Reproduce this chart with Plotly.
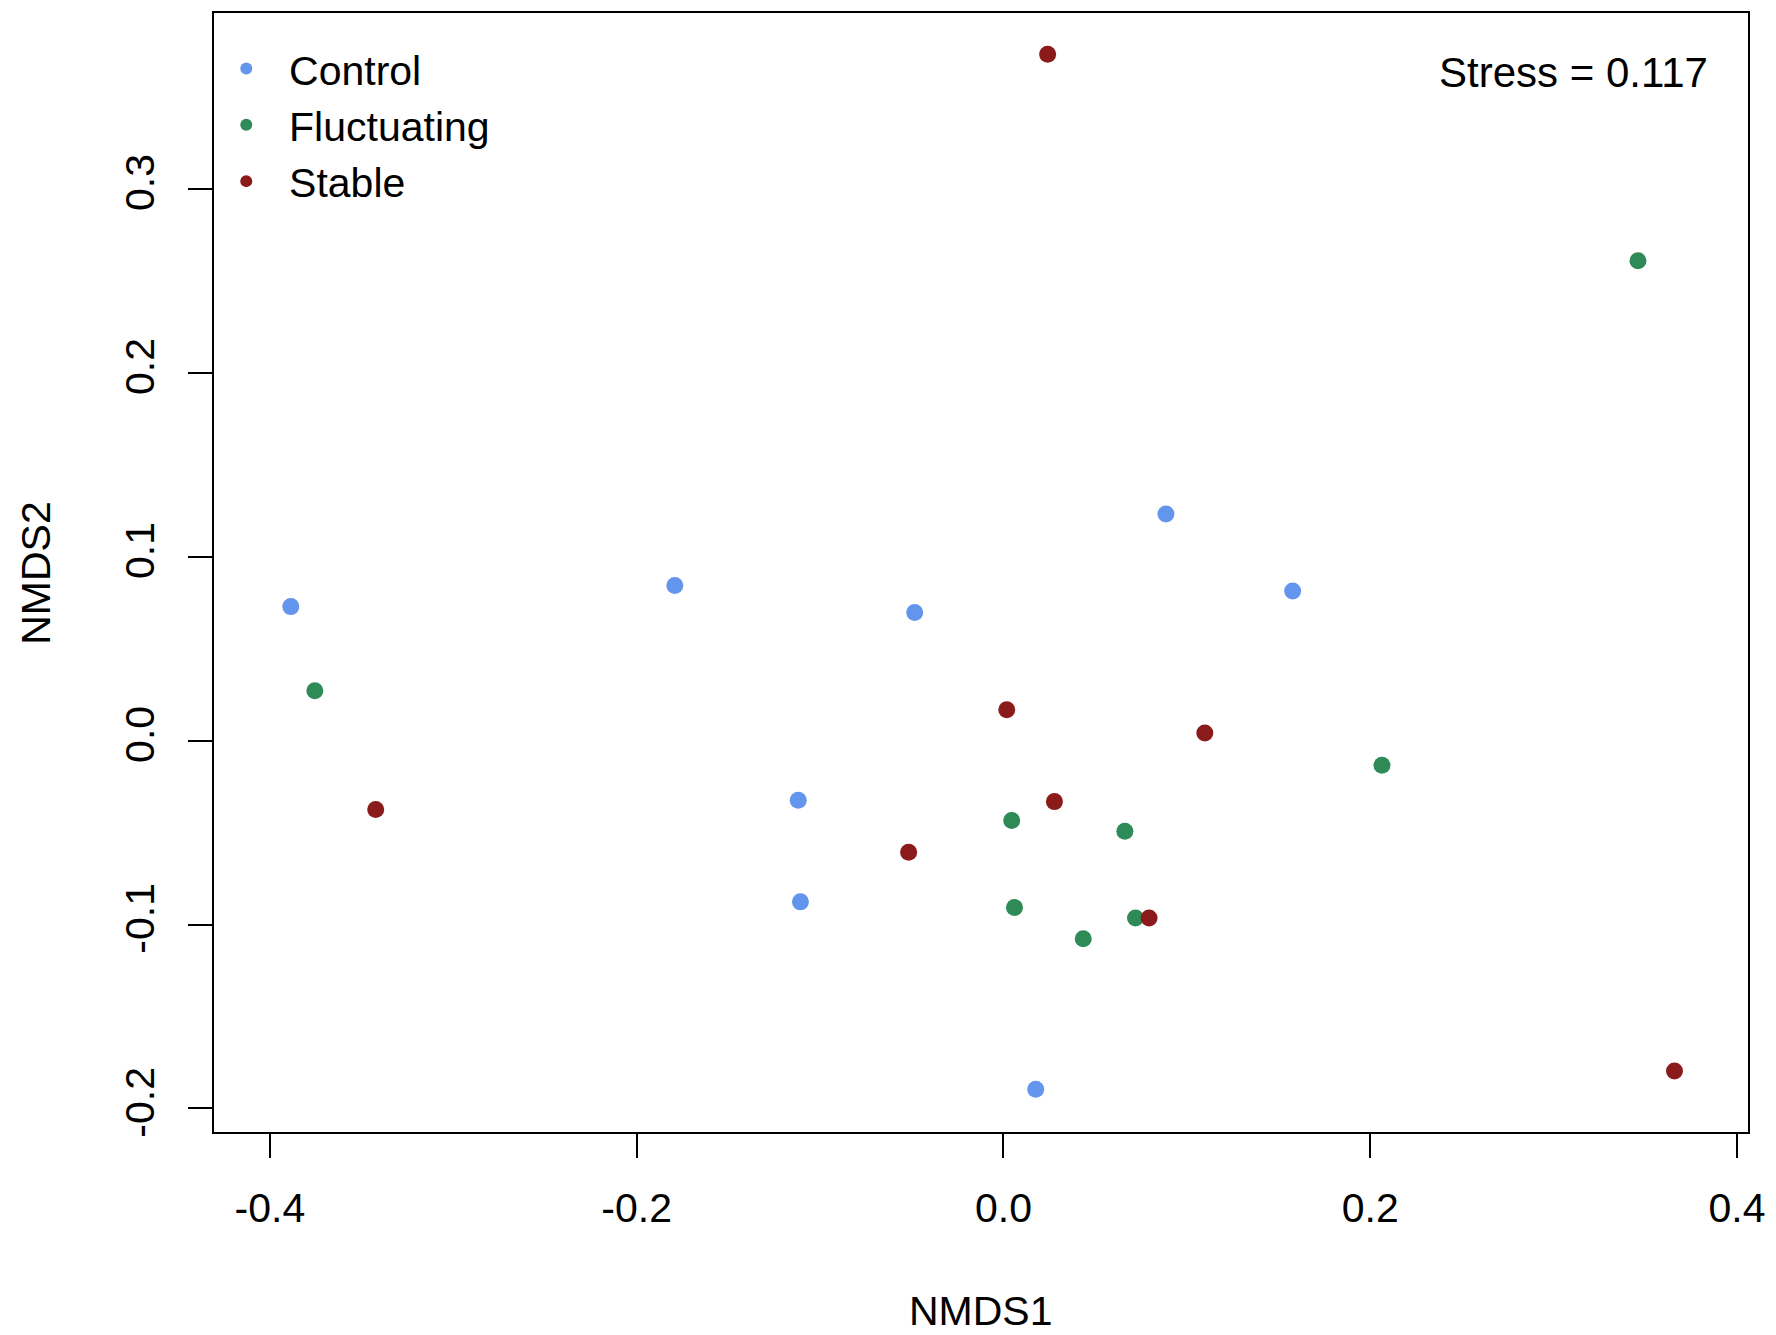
import plotly.graph_objects as go

groups = ["Control", "Fluctuating", "Stable"]
colors = ["#6495ED", "#2E8B57", "#8B1A1A"]

control_x = [-0.3886, -0.1792, -0.0484, 0.0886, 0.1577, -0.1119, -0.1107, 0.0176]
control_y = [0.0728, 0.0843, 0.0696, 0.1231, 0.0813, -0.0324, -0.0877, -0.1896]

fluct_x = [0.3460, -0.3755, 0.2064, 0.0045, 0.0662, 0.0060, 0.0435, 0.0720]
fluct_y = [0.2608, 0.0271, -0.0134, -0.0435, -0.0493, -0.0908, -0.1077, -0.0965]

stable_x = [0.0241, -0.3423, 0.0018, 0.1098, 0.0278, -0.0517, 0.0794, 0.3659]
stable_y = [0.3731, -0.0375, 0.0168, 0.0041, -0.0332, -0.0607, -0.0965, -0.1797]

x_ticks = [-0.4, -0.2, 0.0, 0.2, 0.4]
x_ticklabels = ["-0.4", "-0.2", "0.0", "0.2", "0.4"]
y_ticks = [-0.2, -0.1, 0.0, 0.1, 0.2, 0.3]
y_ticklabels = ["-0.2", "-0.1", "0.0", "0.1", "0.2", "0.3"]

stress_text = "Stress = 0.117"

FONT = "Liberation Sans, Arial, sans-serif"
FS = 41

fig = go.Figure()
for name, col, xs, ys in zip(groups, colors,
                             [control_x, fluct_x, stable_x],
                             [control_y, fluct_y, stable_y]):
    fig.add_trace(go.Scatter(x=xs, y=ys, mode="markers",
                             name="\u00a0\u00a0" + name,
                             marker=dict(color=col, size=17, line=dict(width=0))))

axis_common = dict(
    showgrid=False, zeroline=False, showline=True, mirror=True,
    linecolor="black", linewidth=2, ticks="outside", ticklen=24,
    tickwidth=2, tickcolor="black",
    tickfont=dict(family=FONT, size=FS, color="black"),
)

fig.update_layout(
    width=1776, height=1335,
    margin=dict(l=214, r=25, t=11, b=203),
    paper_bgcolor="white", plot_bgcolor="white",
    font=dict(family=FONT, size=FS, color="black"),
    xaxis=dict(range=[-0.43048, 0.40599], tickvals=x_ticks, ticktext=x_ticklabels,
               ticklabelstandoff=15, **axis_common),
    yaxis=dict(range=[-0.2128, 0.3955], tickvals=y_ticks, ticktext=y_ticklabels,
               tickangle=-90, ticklabelstandoff=18, **axis_common),
    legend=dict(x=0.008, y=0.980, xanchor="left", yanchor="top",
                bgcolor="rgba(0,0,0,0)", borderwidth=0,
                itemsizing="constant", tracegroupgap=0,
                font=dict(family=FONT, size=FS, color="black")),
    showlegend=True,
    annotations=[
        dict(text=stress_text, xref="paper", yref="paper", x=1, y=0.947,
             xanchor="right", yanchor="middle", xshift=-38, showarrow=False,
             font=dict(family=FONT, size=42, color="black")),
        dict(text="NMDS1", xref="paper", yref="paper", x=0.5, y=-0.1597,
             xanchor="center", yanchor="middle", showarrow=False,
             font=dict(family=FONT, size=FS, color="black")),
        dict(text="NMDS2", xref="paper", yref="paper", x=-0.1165, y=0.5,
             xanchor="center", yanchor="middle", textangle=-90, showarrow=False,
             font=dict(family=FONT, size=FS, color="black")),
    ],
)

fig.write_html("out.html", config={"displayModeBar": False},
               post_script="document.body.style.margin='0';document.body.style.padding='0';")
